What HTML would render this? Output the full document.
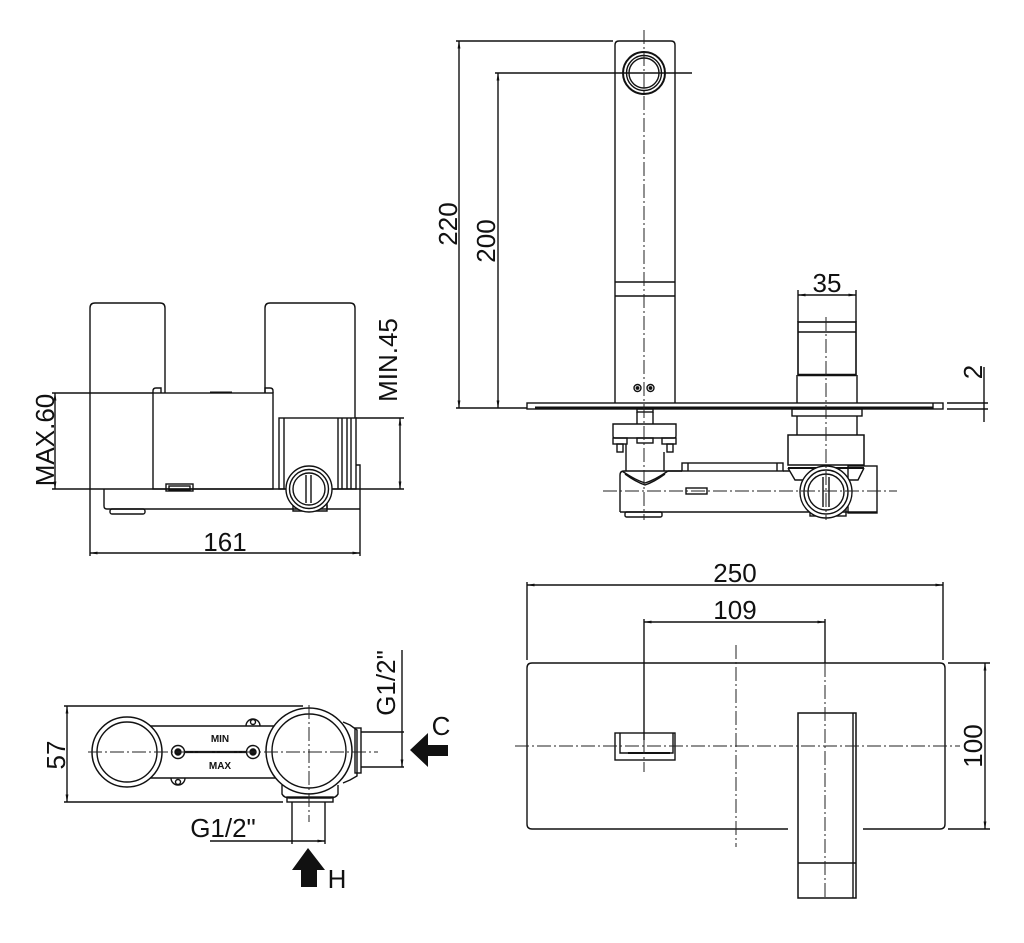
<!DOCTYPE html>
<html><head><meta charset="utf-8"><style>
html,body{margin:0;padding:0;background:#fff;}
svg{display:block;}
text{font-family:"Liberation Sans","DejaVu Sans",sans-serif;font-size:26px;fill:#111;}
.sm{font-size:10px;font-weight:bold;}
</style></head><body>
<svg width="1024" height="943" viewBox="0 0 1024 943" xmlns="http://www.w3.org/2000/svg">
<defs>
<marker id="a" markerUnits="userSpaceOnUse" markerWidth="8" markerHeight="4" refX="7.5" refY="2" orient="auto-start-reverse"><path d="M0,0.6 L8,2 L0,3.4z" fill="#111"/></marker>
</defs>
<g fill="none" stroke="#111" stroke-width="1.4">

<!-- ============ TOP-LEFT SIDE VIEW ============ -->
<path d="M90,556 V308 Q90,303 95,303 H160 Q165,303 165,308 V393"/>
<path d="M265,393 V308 Q265,303 270,303 H350 Q355,303 355,308 V418"/>
<line x1="52" y1="393" x2="153" y2="393"/>
<rect x="153" y="393" width="120" height="96"/>
<path d="M153,393 V391 Q153,388 156,388 H161 V393"/>
<path d="M273,393 V391 Q273,388 270,388 H265 V393"/>
<rect x="210" y="391.5" width="22" height="2" fill="#111" stroke="none"/>
<rect x="279" y="418" width="77" height="71"/>
<line x1="284" y1="418" x2="284" y2="489"/>
<line x1="338" y1="418" x2="338" y2="489"/>
<line x1="342" y1="418" x2="342" y2="489"/>
<line x1="347" y1="418" x2="347" y2="489"/>
<line x1="351" y1="418" x2="351" y2="489"/>
<line x1="356" y1="418" x2="404" y2="418"/>
<line x1="52" y1="489" x2="404" y2="489"/>
<line x1="400" y1="418" x2="400" y2="489" marker-start="url(#a)" marker-end="url(#a)"/>
<line x1="55" y1="393" x2="55" y2="489" marker-start="url(#a)" marker-end="url(#a)"/>
<path d="M104,489 V506 Q104,509 107,509 H360"/>
<path d="M356,465 H360 V556"/>
<rect x="110" y="509" width="35" height="5" rx="2"/>
<rect x="166" y="484" width="27" height="7"/>
<rect x="169" y="486" width="21" height="4"/>
<path d="M327,489 V509"/>
<path d="M293,505 V511 H327 V505"/>
<circle cx="309" cy="489" r="23" fill="#fff"/>
<circle cx="309" cy="489" r="19.5"/>
<circle cx="309" cy="489" r="16"/>
<line x1="306" y1="475" x2="306" y2="503"/>
<line x1="311" y1="475" x2="311" y2="503"/>
<line x1="90" y1="553" x2="360" y2="553" marker-start="url(#a)" marker-end="url(#a)"/>

<!-- ============ TOP-RIGHT ELEVATION ============ -->
<path d="M615,403 V45 Q615,41 619,41 H671 Q675,41 675,45 V403"/>
<line x1="615" y1="282" x2="675" y2="282"/>
<line x1="615" y1="296" x2="675" y2="296"/>
<circle cx="644" cy="73" r="21" stroke-width="2"/>
<circle cx="644" cy="73" r="17.5"/>
<circle cx="644" cy="73" r="15"/>
<line x1="495" y1="73" x2="692" y2="73"/>
<circle cx="637.5" cy="388" r="3.5"/>
<circle cx="650.5" cy="388" r="3.5"/>
<circle cx="637.5" cy="388" r="1.2" fill="#111"/>
<circle cx="650.5" cy="388" r="1.2" fill="#111"/>
<rect x="527" y="403" width="416" height="6"/>
<line x1="535" y1="407.5" x2="933" y2="407.5" stroke-width="2"/>
<line x1="933" y1="403" x2="933" y2="409"/>
<line x1="456" y1="41" x2="613" y2="41"/>
<line x1="456" y1="408" x2="527" y2="408"/>
<line x1="459" y1="41" x2="459" y2="408" marker-start="url(#a)" marker-end="url(#a)"/>
<line x1="498" y1="73" x2="498" y2="408" marker-start="url(#a)" marker-end="url(#a)"/>

<!-- handle -->
<line x1="798" y1="290" x2="798" y2="322"/>
<line x1="856" y1="290" x2="856" y2="322"/>
<line x1="798" y1="295" x2="856" y2="295" marker-start="url(#a)" marker-end="url(#a)"/>
<rect x="798" y="322" width="58" height="53" stroke-width="1.6"/>
<line x1="798" y1="332" x2="856" y2="332"/>
<line x1="798" y1="375" x2="856" y2="375" stroke-width="2.6"/>
<path d="M797,375 V403 M857,375 V403"/>
<!-- dim 2 -->
<line x1="947" y1="403" x2="988" y2="403"/>
<line x1="947" y1="409" x2="988" y2="409"/>
<line x1="984" y1="367" x2="984" y2="422"/>

<!-- left connector under plate -->
<rect x="637" y="409" width="16" height="3"/>
<path d="M637,412 V424 M653,412 V424"/>
<path d="M613,424 H676 V436 Q676,438 674,438 H615 Q613,438 613,436 Z"/>
<rect x="613" y="438" width="14" height="6"/>
<rect x="617" y="444" width="6" height="8"/>
<rect x="662" y="438" width="14" height="6"/>
<rect x="667" y="444" width="6" height="8"/>
<rect x="637" y="438" width="16" height="5"/>
<path d="M626,444 V471 M664,452 V471"/>
<path d="M622,471 Q635,480 645,483 Q655,480 668,471"/>
<path d="M625,474 Q636,482 645,485 Q654,482 665,474"/>
<!-- long body -->
<path d="M620,512 V475 Q620,471 624,471 H682"/>
<path d="M668,471 H682 M783,471 H790"/>
<rect x="682" y="463" width="101" height="8"/>
<line x1="688" y1="463" x2="688" y2="471"/>
<line x1="777" y1="463" x2="777" y2="471"/>
<line x1="620" y1="512" x2="877" y2="512"/>
<rect x="625" y="512" width="37" height="5" rx="1.5"/>
<rect x="686" y="488" width="21" height="6"/>
<!-- cartridge -->
<rect x="792" y="409" width="70" height="7"/>
<path d="M797,416 V435 M857,416 V435"/>
<rect x="788" y="435" width="76" height="30" stroke-width="1.5"/>
<line x1="788" y1="468" x2="864" y2="468" stroke-width="2"/>
<path d="M788,468 L795,480 H808 L815,470"/>
<path d="M838,470 L845,480 H858 L864,468"/>
<rect x="848" y="466" width="29" height="47"/>
<rect x="810" y="505" width="36" height="11"/>
<circle cx="826" cy="492" r="26" fill="#fff"/>
<circle cx="826" cy="492" r="22"/>
<circle cx="826" cy="492" r="18"/>
<line x1="823" y1="477" x2="823" y2="507"/>
<line x1="829" y1="477" x2="829" y2="507"/>

<!-- ============ BOTTOM-LEFT PLAN ============ -->
<line x1="64" y1="706" x2="303" y2="706"/>
<line x1="64" y1="802" x2="283" y2="802"/>
<line x1="67" y1="706" x2="67" y2="802" marker-start="url(#a)" marker-end="url(#a)"/>
<line x1="150" y1="726" x2="275" y2="726"/>
<line x1="150" y1="778" x2="275" y2="778"/>
<path d="M246,726 A7,7 0 0 1 260,726"/>
<circle cx="253" cy="722" r="2.5"/>
<path d="M171,778 A7,7 0 0 0 185,778"/>
<circle cx="178" cy="782" r="2.5"/>
<circle cx="127" cy="752" r="35" fill="#fff" stroke-width="1.5"/>
<circle cx="127" cy="752" r="30"/>
<path d="M343,722 L350,725 L357,730 V776 L350,780 L343,783"/>
<path d="M282,785 V794 Q284,798 290,798 H330 Q336,798 338,794 V785"/>
<circle cx="309" cy="751" r="43" fill="#fff" stroke-width="1.5"/>
<circle cx="309" cy="751" r="37"/>
<line x1="178" y1="752" x2="253" y2="752" stroke-width="2.2"/>
<circle cx="178" cy="752" r="6.5" fill="#fff"/>
<circle cx="178" cy="752" r="3" fill="#111"/>
<circle cx="253" cy="752" r="6.5" fill="#fff"/>
<circle cx="253" cy="752" r="3" fill="#111"/>
<rect x="355" y="728" width="6" height="45"/>
<path d="M361,732 H404 M361,767 H404"/>
<line x1="402" y1="650" x2="402" y2="767" marker-end="url(#a)"/>
<polygon points="410,750 428,733 428,745 448,745 448,756 428,756 428,767" fill="#111" stroke="none"/>
<rect x="287" y="797" width="46" height="5"/>
<path d="M292,802 V844 M325,802 V844"/>
<line x1="210" y1="841" x2="325" y2="841" marker-end="url(#a)"/>
<polygon points="308,848 325,870 317,870 317,887 301,887 301,870 292,870" fill="#111" stroke="none"/>

<!-- ============ BOTTOM-RIGHT FRONT VIEW ============ -->
<line x1="527" y1="582" x2="527" y2="660"/>
<line x1="943" y1="582" x2="943" y2="660"/>
<line x1="527" y1="585" x2="943" y2="585" marker-start="url(#a)" marker-end="url(#a)"/>
<line x1="644" y1="619" x2="644" y2="740"/>
<line x1="825" y1="619" x2="825" y2="663"/>
<line x1="644" y1="622" x2="825" y2="622" marker-start="url(#a)" marker-end="url(#a)"/>
<path d="M788,829 H532 Q527,829 527,824 V668 Q527,663 532,663 H940 Q945,663 945,668 V824 Q945,829 940,829 H863"/>
<rect x="615" y="733" width="60" height="27"/>
<path d="M620,733 V753 H673 V733"/>
<line x1="628" y1="753" x2="670" y2="753" stroke-width="2"/>
<rect x="798" y="713" width="58" height="185" stroke-width="1.5"/>
<line x1="853" y1="713" x2="853" y2="898"/>
<line x1="798" y1="863" x2="856" y2="863"/>
<line x1="948" y1="663" x2="990" y2="663"/>
<line x1="948" y1="829" x2="990" y2="829"/>
<line x1="985" y1="663" x2="985" y2="829" marker-start="url(#a)" marker-end="url(#a)"/>
</g>

<!-- center lines -->
<g fill="none" stroke="#222" stroke-width="1" stroke-dasharray="14 3 2 3">
<line x1="644" y1="30" x2="644" y2="520"/>
<line x1="826" y1="317" x2="826" y2="520"/>
<line x1="603" y1="491" x2="897" y2="491"/>
<line x1="88" y1="752" x2="378" y2="752"/>
<line x1="309" y1="705" x2="309" y2="822"/>
<line x1="515" y1="746" x2="960" y2="746"/>
<line x1="736" y1="645" x2="736" y2="847"/>
<line x1="644" y1="740" x2="644" y2="772"/>
<line x1="825" y1="663" x2="825" y2="900"/>
</g>

<!-- text -->
<text x="225" y="551" text-anchor="middle">161</text>
<text transform="translate(54,440) rotate(-90)" text-anchor="middle">MAX.60</text>
<text transform="translate(397,360) rotate(-90)" text-anchor="middle">MIN.45</text>
<text transform="translate(457,224) rotate(-90)" text-anchor="middle">220</text>
<text transform="translate(495,241) rotate(-90)" text-anchor="middle">200</text>
<text x="827" y="292" text-anchor="middle">35</text>
<text transform="translate(982,372) rotate(-90)" text-anchor="middle">2</text>
<text x="735" y="582" text-anchor="middle">250</text>
<text x="735" y="619" text-anchor="middle">109</text>
<text transform="translate(982,746) rotate(-90)" text-anchor="middle">100</text>
<text transform="translate(65,755) rotate(-90)" text-anchor="middle">57</text>
<text transform="translate(395,683) rotate(-90)" text-anchor="middle">G1/2"</text>
<text x="441" y="735" text-anchor="middle">C</text>
<text x="223" y="837" text-anchor="middle">G1/2"</text>
<text x="337" y="888" text-anchor="middle">H</text>
<text class="sm" x="220" y="742" text-anchor="middle">MIN</text>
<text class="sm" x="220" y="769" text-anchor="middle">MAX</text>
</svg>
</body></html>
